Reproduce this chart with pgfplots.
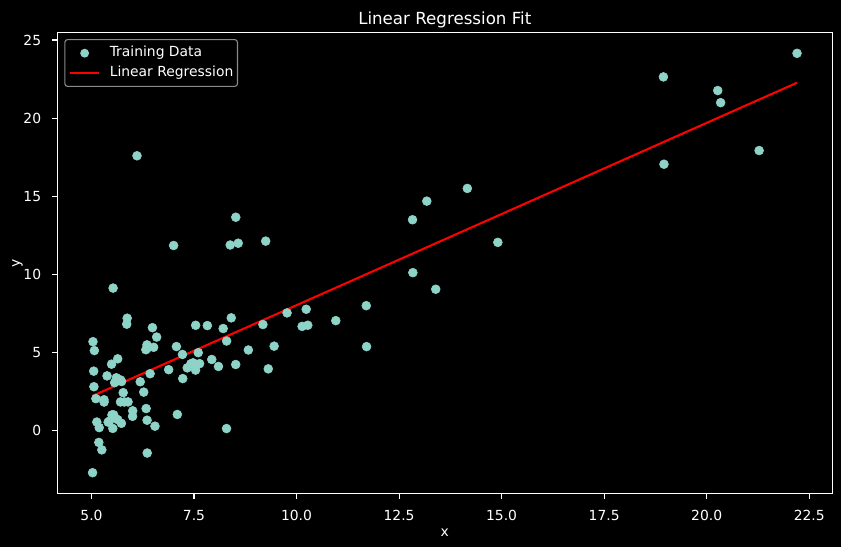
\documentclass[border=0pt]{standalone}
\usepackage{fontspec}
\setmainfont{DejaVu Sans}
\usepackage{pgfplots}
\pgfplotsset{compat=1.18}
\definecolor{scat}{HTML}{8DD3C7}
\definecolor{legedge}{HTML}{8A8A8A}
\newcommand{\ten}{\fontsize{10}{12}\selectfont}

\begin{document}
\begin{tikzpicture}
  % dark figure background
  \fill[black] (-41.3pt,-38.4pt) rectangle (564.3pt,355.5pt);
  \begin{axis}[
    at={(0pt,0pt)}, anchor=south west,
    scale only axis,
    width=558pt, height=332.2pt,
    xmin=4.1681, xmax=23.0619,
    ymin=-4.0221, ymax=25.4884,
    axis line style={white, line width=0.8pt},
    every tick/.style={white, line width=0.8pt},
    tick align=outside,
    major tick length=3.5pt,
    xtick={5,7.5,...,22.5},
    ytick={0,5,...,25},
    xtick pos=bottom, ytick pos=left,
    minor tick num=0,
    /pgf/number format/assume math mode=true,
    xticklabel style={font=\ten, text=white, anchor=base, yshift=-15.8pt, inner sep=0pt,
      /pgf/number format/fixed, /pgf/number format/fixed zerofill,
      /pgf/number format/precision=1},
    yticklabel style={font=\ten, text=white, anchor=east, xshift=-8pt, inner sep=0pt},
    scaled ticks=false,
    title={Linear Regression Fit},
    title style={font=\fontsize{12}{14}\selectfont, text=white,
      at={(axis description cs:0.5,1)}, anchor=base, yshift=0pt, inner sep=0pt},
    xlabel={x},
    ylabel={y},
    xlabel style={font=\ten, text=white, at={(axis description cs:0.5,0)},
      anchor=base, yshift=-31pt, inner sep=0pt},
    ylabel style={font=\ten, text=white, at={(axis description cs:0,0.5)},
      anchor=base, yshift=26.9pt, inner sep=0pt},
    legend style={
      at={(axis description cs:0,1)}, anchor=north west,
      xshift=5pt, yshift=-4.8pt,
      fill=black, draw=legedge, rounded corners=2pt, line width=0.8pt,
      text=white, font=\ten,
      inner xsep=3pt, inner ysep=5pt,
      row sep=4.5pt,
      nodes={inner sep=0pt, text height=7.3pt, text depth=2.3pt},
    },
    legend cell align=left,
  ]

  % training data
  \addplot[only marks, mark=*, mark size=3.2pt, scat, mark options={draw=none, fill=scat},
    legend image code/.code={
      \path[draw=none, fill=none] (0pt,-3pt) rectangle (28.6pt,3pt);
      \fill[scat, draw=none] (10.5pt,0pt) circle (3.2pt);
    }] coordinates {
  (6.1101,17.592) (5.5277,9.1302) (8.5186,13.662) (7.0032,11.854)
  (5.8598,6.8233) (8.3829,11.886) (7.4764,4.3483) (8.5781,12)
  (6.4862,6.5987) (5.0546,3.8166) (5.7107,3.2522) (14.164,15.505)
  (5.734,3.1551) (8.4084,7.2258) (5.6407,0.71618) (5.3794,3.5129)
  (6.3654,5.3048) (5.1301,0.56077) (6.4296,3.6518) (7.0708,5.3893)
  (6.1891,3.1386) (20.27,21.767) (5.4901,4.263) (6.3261,5.1875)
  (5.5649,3.0825) (18.945,22.638) (12.828,13.501) (10.957,7.0467)
  (13.176,14.692) (22.203,24.147) (5.2524,-1.22) (6.5894,5.9966)
  (9.2482,12.134) (5.8918,1.8495) (8.2111,6.5426) (7.9334,4.5623)
  (8.0959,4.1164) (5.6063,3.3928) (12.836,10.117) (6.3534,5.4974)
  (5.4069,0.55657) (6.8825,3.9115) (11.708,5.3854) (5.7737,2.4406)
  (7.8247,6.7318) (7.0931,1.0463) (5.0702,5.1337) (5.8014,1.844)
  (11.7,8.0043) (5.5416,1.0179) (7.5402,6.7504) (5.3077,1.8396)
  (7.4239,4.2885) (7.6031,4.9981) (6.3328,1.4233) (6.3589,-1.4211)
  (6.2742,2.4756) (5.6397,4.6042) (9.3102,3.9624) (9.4536,5.4141)
  (8.8254,5.1694) (5.1793,-0.74279) (21.279,17.929) (14.908,12.054)
  (18.959,17.054) (7.2182,4.8852) (8.2951,5.7442) (10.236,7.7754)
  (5.4994,1.0173) (20.341,20.992) (10.136,6.6799) (7.3345,4.0259)
  (6.0062,1.2784) (7.2259,3.3411) (5.0269,-2.6807) (6.5479,0.29678)
  (7.5386,3.8845) (5.0365,5.7014) (10.274,6.7526) (5.1077,2.0576)
  (5.7292,0.47953) (5.1884,0.20421) (6.3557,0.67861) (9.7687,7.5435)
  (6.5159,5.3436) (8.5172,4.2415) (9.1802,6.7981) (6.002,0.92695)
  (5.5204,0.152) (5.0594,2.8214) (5.7077,1.8451) (7.6366,4.2959)
  (5.8707,7.2029) (5.3054,1.9869) (8.2934,0.14454) (13.394,9.0551)
  (5.4369,0.61705)
  };
  \addlegendentry{Training Data}

  % fitted line
  \addplot[red, line width=1.5pt,
    legend image code/.code={
      \path[draw=none, fill=none] (0pt,-3pt) rectangle (28.6pt,3pt);
      \draw[red, line width=1.5pt, sharp corners] (0pt,0pt) -- (21pt,0pt);
    }] coordinates {
  (5.0269,2.2331)
  (22.203,22.2673)
  };
  \addlegendentry{Linear Regression}
  \end{axis}
  \pgfresetboundingbox
  \path (-41.3pt,-38.4pt) rectangle (564.3pt,355.5pt);
\end{tikzpicture}
\end{document}
